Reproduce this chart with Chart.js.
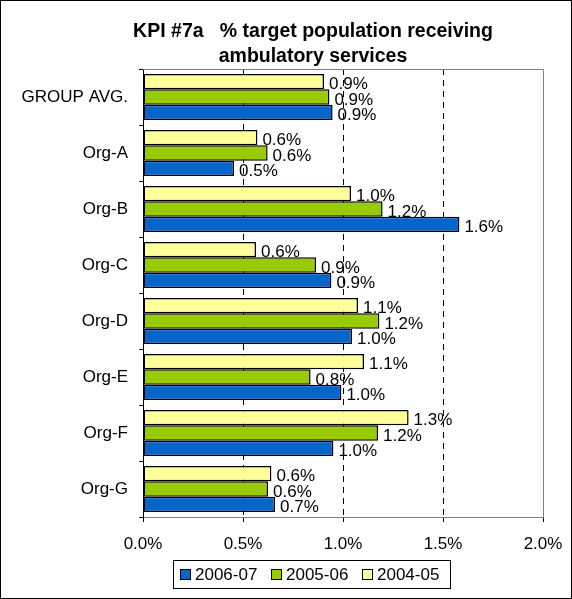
<!DOCTYPE html>
<html>
<head>
<meta charset="utf-8">
<script src="https://cdn.jsdelivr.net/npm/chart.js@4/dist/chart.umd.min.js"></script>
<style>
  html, body { margin: 0; padding: 0; background: #fff; }
  #wrap { width: 572px; height: 599px; }
</style>
</head>
<body>
<div id="wrap"><canvas id="kpiChart" width="572" height="599"></canvas></div>
<script>
// ==========================================
// Datos (en %)
// ==========================================
const categorias = ['GROUP AVG.', 'Org-A', 'Org-B', 'Org-C', 'Org-D', 'Org-E', 'Org-F', 'Org-G'];

const serie0405 = [0.905, 0.572, 1.04, 0.565, 1.075, 1.105, 1.328, 0.642];
const serie0506 = [0.932, 0.623, 1.198, 0.865, 1.182, 0.838, 1.175, 0.625];
const serie0607 = [0.948, 0.455, 1.582, 0.942, 1.045, 0.992, 0.952, 0.66];

const ticksX = [0, 0.5, 1, 1.5, 2];

const titulo = ['KPI #7a   % target population receiving', 'ambulatory services'];

const FUENTE = '"Liberation Sans", Arial, sans-serif';
const TAM = 17;

// Título (centrado sobre x=313 como en el original)
const tituloPlugin = {
    id: 'titulo',
    afterDraw(chart) {
        const ctx = chart.ctx;
        ctx.save();
        ctx.font = 'bold 19.5px ' + FUENTE;
        ctx.fillStyle = '#000';
        ctx.textAlign = 'center';
        ctx.textBaseline = 'alphabetic';
        ctx.fillText(titulo[0], 313, 37);
        ctx.fillText(titulo[1], 313, 62);
        ctx.restore();
    }
};

// Etiquetas de valor al final de cada barra
const etiquetasPlugin = {
    id: 'etiquetas',
    afterDatasetsDraw(chart) {
        const ctx = chart.ctx;
        ctx.save();
        ctx.font = TAM + 'px ' + FUENTE;
        ctx.fillStyle = '#000';
        ctx.textAlign = 'left';
        ctx.textBaseline = 'middle';
        chart.data.datasets.forEach((ds, i) => {
            chart.getDatasetMeta(i).data.forEach((bar, j) => {
                ctx.fillText(ds.data[j].toFixed(1) + '%', bar.x + 5, bar.y + 3);
            });
        });
        ctx.restore();
    }
};

// Marco gris del área de trazado, marco exterior y leyenda con caja
const marcosPlugin = {
    id: 'marcos',
    beforeDatasetsDraw(chart) {
        const { ctx, chartArea: a } = chart;
        ctx.save();
        ctx.strokeStyle = '#808080';
        ctx.lineWidth = 1;
        ctx.beginPath();
        ctx.moveTo(a.left, a.top + 0.5);
        ctx.lineTo(a.right + 0.5, a.top + 0.5);
        ctx.lineTo(a.right + 0.5, a.bottom);
        ctx.stroke();
        ctx.restore();
    },
    afterDraw(chart) {
        const ctx = chart.ctx;
        ctx.save();
        ctx.strokeStyle = '#000';
        ctx.lineWidth = 1;
        ctx.strokeRect(0.5, 0.5, chart.width - 1, chart.height - 1);

        // leyenda (orden inverso al de las barras)
        ctx.strokeRect(173.5, 560.5, 277, 28);
        ctx.font = TAM + 'px ' + FUENTE;
        ctx.textBaseline = 'middle';
        const orden = [2, 1, 0];
        const xs = [180, 271, 362];
        orden.forEach((idx, k) => {
            const ds = chart.data.datasets[idx];
            ctx.fillStyle = ds.backgroundColor;
            ctx.fillRect(xs[k] + 0.5, 569.5, 10, 10);
            ctx.strokeStyle = '#000';
            ctx.strokeRect(xs[k] + 0.5, 569.5, 10, 10);
            ctx.fillStyle = '#000';
            ctx.fillText(ds.label, xs[k] + 15, 575);
        });
        ctx.restore();
    }
};

const estiloBarra = { borderColor: '#000', borderWidth: 1.5, borderSkipped: false };

new Chart(document.getElementById('kpiChart').getContext('2d'), {
    type: 'bar',
    data: {
        labels: categorias,
        datasets: [
            { label: '2004-05', data: serie0405, backgroundColor: '#FFFF99', ...estiloBarra },
            { label: '2005-06', data: serie0506, backgroundColor: '#99CC00', ...estiloBarra },
            { label: '2006-07', data: serie0607, backgroundColor: '#0066CC', ...estiloBarra }
        ]
    },
    options: {
        indexAxis: 'y',
        responsive: false,
        animation: false,
        categoryPercentage: 0.82,
        barPercentage: 1,
        layout: { padding: { left: 0, right: 29, top: 69, bottom: 42 } },
        plugins: {
            legend: { display: false },
            tooltip: { enabled: false },
            title: { display: false }
        },
        scales: {
            x: {
                min: 0,
                max: 2,
                afterBuildTicks: s => { s.ticks = ticksX.map(v => ({ value: v })); },
                afterFit: s => { s.height = 40; s.paddingLeft = 0; s.paddingRight = 0; },
                ticks: {
                    color: '#000',
                    padding: 12,
                    font: { family: FUENTE, size: TAM },
                    callback: v => v.toFixed(1) + '%'
                },
                grid: {
                    color: c => (c.tick && c.tick.value > 0 && c.tick.value < 2) ? '#000' : 'rgba(0,0,0,0)',
                    tickColor: '#000',
                    tickLength: 5,
                    tickBorderDash: [],
                    lineWidth: 1
                },
                border: { color: '#808080', width: 1, dash: [6, 5] }
            },
            y: {
                afterFit: s => { s.width = 143; },
                ticks: {
                    color: '#000',
                    padding: 11,
                    font: { family: FUENTE, size: TAM }
                },
                grid: {
                    drawOnChartArea: false,
                    tickColor: '#000',
                    tickLength: 4
                },
                border: { color: '#000', width: 1 }
            }
        }
    },
    plugins: [tituloPlugin, etiquetasPlugin, marcosPlugin]
});
</script>
</body>
</html>
